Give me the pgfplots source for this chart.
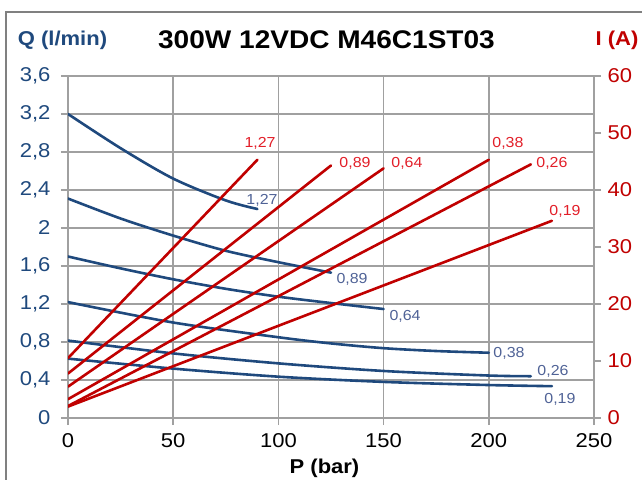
\documentclass[border=0pt]{standalone}
\usepackage{fontspec}
\setmainfont{Liberation Sans}[FakeStretch=1.1]
\usepackage{pgfplots}
\pgfplotsset{compat=1.18}
\definecolor{qblue}{RGB}{31,73,125}
\definecolor{qlab}{RGB}{79,98,150}
\definecolor{ired}{RGB}{192,0,0}
\definecolor{ilab}{RGB}{226,30,40}
\definecolor{gridgray}{RGB}{160,160,160}

\pgfplotsset{
  common/.style={
    scale only axis, width=526pt, height=342pt,
    xmin=0, xmax=250,
    tick align=outside, major tick length=7pt,
    tick style={gridgray, line width=1.5pt},
    axis line style={gridgray, line width=1.5pt},
    tick label style={font=\fontsize{20}{22}\selectfont},
    /pgf/number format/assume math mode=true,
  },
  qline/.style={qblue, line width=2.6pt, smooth, line cap=round, no marks},
  iline/.style={ired, line width=2.6pt, line cap=round, no marks},
}
\tikzset{
  qtag/.style={qlab, font=\fontsize{14.5}{16}\selectfont},
  itag/.style={ilab, font=\fontsize{14.5}{16}\selectfont},
}

\begin{document}
\begin{tikzpicture}
  \begin{axis}[common,
      ymin=0, ymax=3.6,
      xtick={0,50,100,150,200,250},
      ytick={0,0.4,0.8,1.2,1.6,2,2.4,2.8,3.2,3.6},
      axis x line*=bottom, axis y line*=left,
      grid=major, grid style={gridgray, line width=1.5pt},
      yticklabel style={qblue, xshift=-7pt,
        /pgf/number format/.cd, fixed, precision=1, use comma},
      xticklabel style={yshift=-5pt},
    ]
    % Q (l/min) curves
    \addplot[qline] coordinates {(0,3.2)(25,2.84)(50,2.52)(75,2.29)(90,2.2)};
    \addplot[qline] coordinates {(0,2.31)(25,2.10)(50,1.92)(75,1.76)(100,1.64)(125,1.53)};
    \addplot[qline] coordinates {(0,1.70)(25,1.575)(50,1.46)(75,1.36)(100,1.277)(125,1.21)(150,1.147)};
    \addplot[qline] coordinates {(0,1.22)(50,1.005)(100,0.85)(125,0.785)(150,0.735)(175,0.705)(200,0.687)};
    \addplot[qline] coordinates {(0,0.815)(50,0.68)(100,0.575)(150,0.495)(200,0.447)(220,0.44)};
    \addplot[qline] coordinates {(0,0.625)(50,0.52)(100,0.435)(150,0.38)(200,0.347)(230,0.335)};
    \node[qtag] at (axis cs:92.2,2.295) {1,27};
    \node[qtag] at (axis cs:135,1.463) {0,89};
    \node[qtag] at (axis cs:160.2,1.074) {0,64};
    \node[qtag] at (axis cs:209.6,0.684) {0,38};
    \node[qtag] at (axis cs:230.5,0.495) {0,26};
    \node[qtag] at (axis cs:233.8,0.2) {0,19};
  \end{axis}
  \begin{axis}[common,
      ymin=0, ymax=60,
      ytick={0,10,20,30,40,50,60},
      axis x line=none, axis y line*=right,
      yticklabel style={ired, xshift=3pt},
    ]
    % I (A) lines
    \addplot[iline] coordinates {(0,10.5)(90,45.3)};
    \addplot[iline] coordinates {(0,7.8)(125,44.3)};
    \addplot[iline] coordinates {(0,5.5)(150,43.8)};
    \addplot[iline] coordinates {(0,3.3)(200,45.3)};
    \addplot[iline] coordinates {(0,2.1)(220,44.5)};
    \addplot[iline] coordinates {(0,2.0)(230,34.6)};
    \node[itag] at (axis cs:91.3,48.1) {1,27};
    \node[itag] at (axis cs:136.4,44.6) {0,89};
    \node[itag] at (axis cs:161.1,44.6) {0,64};
    \node[itag] at (axis cs:209.1,48.1) {0,38};
    \node[itag] at (axis cs:230,44.6) {0,26};
    \node[itag] at (axis cs:236.2,36.3) {0,19};
  \end{axis}
  % titles
  \node[font=\bfseries\fontsize{25.5}{28}\selectfont] at (258.5pt,378pt) {300W 12VDC M46C1ST03};
  \node[qblue, font=\bfseries\fontsize{20}{22}\selectfont] at (-5.5pt,378pt) {Q (l/min)};
  \node[ired, font=\bfseries\fontsize{20}{22}\selectfont] at (549pt,378pt) {I (A)};
  \node[font=\bfseries\fontsize{20}{22}\selectfont] at (256.5pt,-50pt) {P (bar)};
  % outer frame
  \draw[gray, line width=1.5pt] (-62pt,-90pt) rectangle (620pt,406pt);
  \pgfresetboundingbox
  \path[use as bounding box] (-68pt,-61pt) rectangle (574pt,418pt);
\end{tikzpicture}
\end{document}
